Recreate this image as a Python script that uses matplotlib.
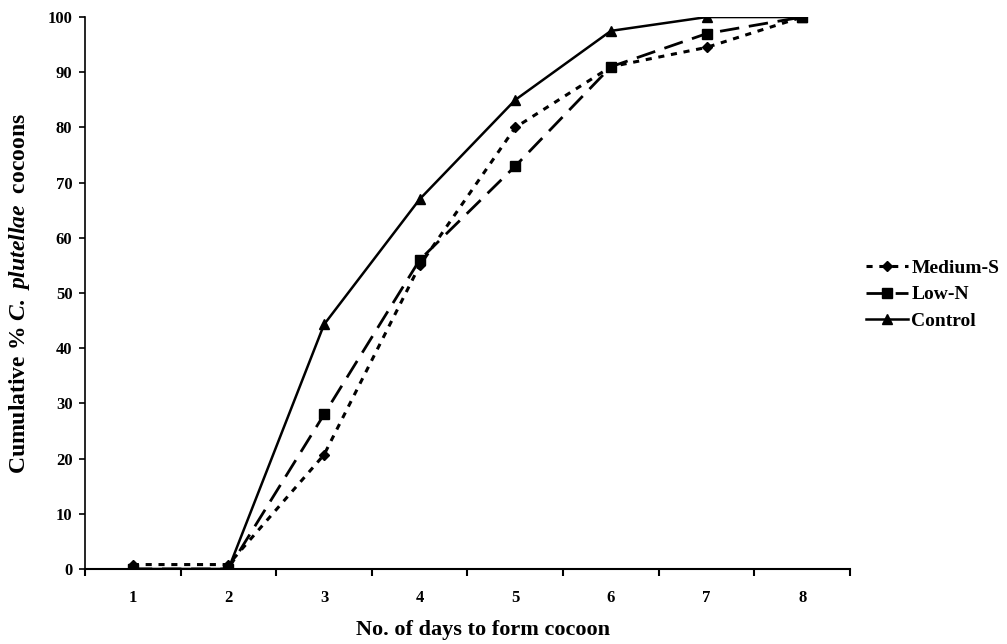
import matplotlib
matplotlib.use("Agg")
import matplotlib.pyplot as plt

days = [1, 2, 3, 4, 5, 6, 7, 8]
medium_s = [0.8, 0.8, 20.7, 55, 80, 91, 94.5, 100]
low_n = [0, 0, 28, 56, 73, 91, 97, 100]
control = [0, 0, 44.3, 67, 85, 97.5, 100, 100]
series_names = ["Medium-S", "Low-N", "Control"]

plt.rcParams['font.family'] = ['Liberation Serif', 'DejaVu Serif']
plt.rcParams['font.weight'] = 'bold'
plt.rcParams['mathtext.fontset'] = 'custom'
plt.rcParams['mathtext.bfit'] = 'Liberation Serif:style=italic:weight=bold'
plt.rcParams['mathtext.it'] = 'Liberation Serif:style=italic:weight=bold'

fig = plt.figure(figsize=(10.07, 6.44), dpi=100)
ax = fig.add_axes([0.0844, 0.1165, 0.7597, 0.857])

ax.plot(days, medium_s, color='black', lw=2.2, ls=(0, (2, 2.2)),
        marker='D', ms=5.5, label=series_names[0])
ax.plot(days, low_n, color='black', lw=2.0, ls=(0, (7, 3.5)),
        marker='s', ms=6.5, label=series_names[1])
ax.plot(days, control, color='black', lw=1.8, ls='-',
        marker='^', ms=6.5, label=series_names[2])

ax.set_xlim(0.5, 8.5)
ax.set_ylim(0, 100)
ax.set_yticks(range(0, 101, 10))
ax.set_xticks(days)
ax.set_xticks([d + 0.5 for d in range(0, 9)], minor=True)
ax.tick_params(axis='x', which='major', length=0, pad=15, labelsize=12)
ax.tick_params(axis='x', which='minor', length=5, width=1.5, direction='out')
ax.tick_params(axis='y', length=4, width=1.2, direction='out', labelsize=12, pad=5)
for lab in ax.get_xticklabels() + ax.get_yticklabels():
    lab.set_fontweight('bold')

ax.spines['top'].set_visible(False)
ax.spines['right'].set_visible(False)
ax.spines['left'].set_linewidth(1.2)
ax.spines['bottom'].set_linewidth(1.5)

ax.set_xlabel("No. of days to form cocoon", fontsize=16, fontweight='bold', va='center')
ax.xaxis.set_label_coords(0.52, -0.111)
ax.set_ylabel(r"Cumulative % $\mathbfit{C.\ plutellae}$  cocoons", fontsize=17,
              fontweight='bold', va='center')
ax.yaxis.set_label_coords(-0.085, 0.5)

# legend sits just right of the plot; the last letter runs to the edge like the original
ax.legend(loc='center left', bbox_to_anchor=(1.0, 0.497), frameon=False,
          prop={'weight': 'bold', 'size': 14}, handlelength=2.2,
          handletextpad=0.15, labelspacing=0.45, borderaxespad=0.4)

fig.savefig("out.png", dpi=100)
